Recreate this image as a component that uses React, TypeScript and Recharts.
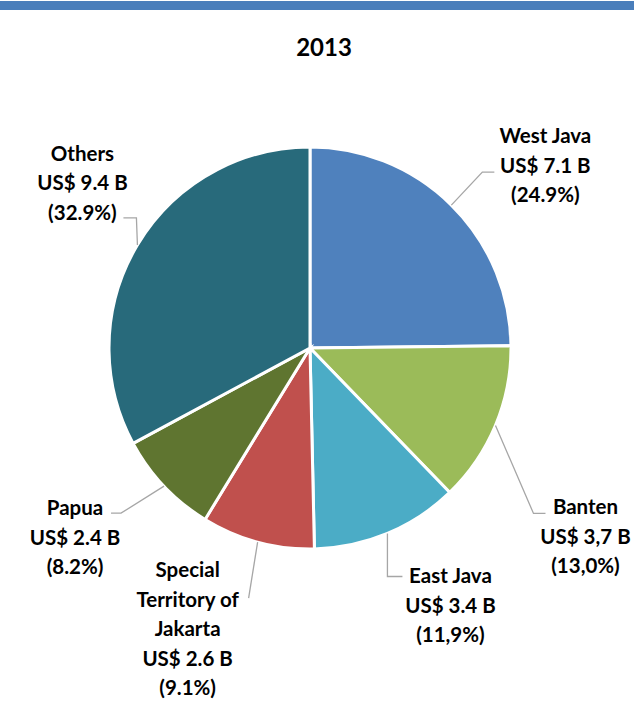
import { Cell, Pie, PieChart } from "recharts"

const regions = ["West Java", "Banten", "East Java", "Special Territory of Jakarta", "Papua", "Others"];
const nameLines = [["West Java"], ["Banten"], ["East Java"], ["Special", "Territory of", "Jakarta"], ["Papua"], ["Others"]];
const investment = [7.1, 3.7, 3.4, 2.6, 2.4, 9.4];
const amountLabels = ["US$ 7.1 B", "US$ 3,7 B", "US$ 3.4 B", "US$ 2.6 B", "US$ 2.4 B", "US$ 9.4 B"];
const shareLabels = ["(24.9%)", "(13,0%)", "(11,9%)", "(9.1%)", "(8.2%)", "(32.9%)"];

const sliceColors = ['#4F81BD', '#9BBB59', '#4BACC6', '#C0504D', '#5F7530', '#286A7B'];

// leader line elbow / end and text position, relative to the slice edge point
const labelLayout = [
  { elbow: [31, -33], end: [43, -33], text: [94, -70] },
  { elbow: [38, 88], end: [50, 88], text: [90, 81] },
  { elbow: [0, 43], end: [15, 43], text: [63, 42] },
  { elbow: [-9, 56], end: [-9, 56], text: [-70, 27] },
  { elbow: [-43, 27], end: [-53, 27], text: [-89, 21] },
  { elbow: [-1, -27], end: [-14, -27], text: [-55, -92] },
];

const pieData = regions.map((name, i) => ({ name, value: investment[i] }));

const RAD = Math.PI / 180;
const LINE_H = 29.5;

const renderLabel = (props: any) => {
  const { cx, cy, midAngle, outerRadius, index } = props;
  const ex = cx + outerRadius * Math.cos(-midAngle * RAD);
  const ey = cy + outerRadius * Math.sin(-midAngle * RAD);
  const lay = labelLayout[index];
  const lines = [...nameLines[index], amountLabels[index], shareLabels[index]];
  const tx = ex + lay.text[0];
  const ty = ey + lay.text[1];
  return (
    <g key={`lbl-${index}`}>
      <polyline
        points={`${ex},${ey} ${ex + lay.elbow[0]},${ey + lay.elbow[1]} ${ex + lay.end[0]},${ey + lay.end[1]}`}
        fill="none"
        stroke="#A6A6A6"
        strokeWidth={1.3}
      />
      {lines.map((t, j) => (
        <text
          key={j}
          x={tx}
          y={ty + j * LINE_H}
          textAnchor="middle"
          dominantBaseline="central"
          fontFamily="Lato, sans-serif"
          fontWeight="bold"
          fontSize={20.5}
          fill="#000"
        >
          {t}
        </text>
      ))}
    </g>
  );
};

export default function App() {
  return (
    <div style={{ position: 'absolute', left: 0, top: 0, width: 634, height: 707, background: '#fff' }}>
      <div style={{ position: 'absolute', left: 0, top: 1, width: 634, height: 9, background: '#4A7EBB' }} />
      <div
        style={{
          position: 'absolute', left: 0, top: 32, width: 648, textAlign: 'center',
          fontFamily: 'Lato, sans-serif', fontWeight: 'bold', fontSize: 24, color: '#000',
        }}
      >
        2013
      </div>
      <PieChart
        width={634}
        height={707}
        margin={{ top: 0, right: 0, bottom: 0, left: 0 }}
        style={{ position: 'absolute', left: 0, top: 0 }}
      >
        <Pie
          data={pieData}
          dataKey="value"
          nameKey="name"
          cx={310}
          cy={348}
          outerRadius={201}
          startAngle={90}
          endAngle={-270}
          stroke="#fff"
          strokeWidth={3}
          label={renderLabel}
          labelLine={false}
          isAnimationActive={false}
        >
          {pieData.map((_, index) => (
            <Cell key={`slice-${index}`} fill={sliceColors[index % sliceColors.length]} />
          ))}
        </Pie>
      </PieChart>
    </div>
  )
}
